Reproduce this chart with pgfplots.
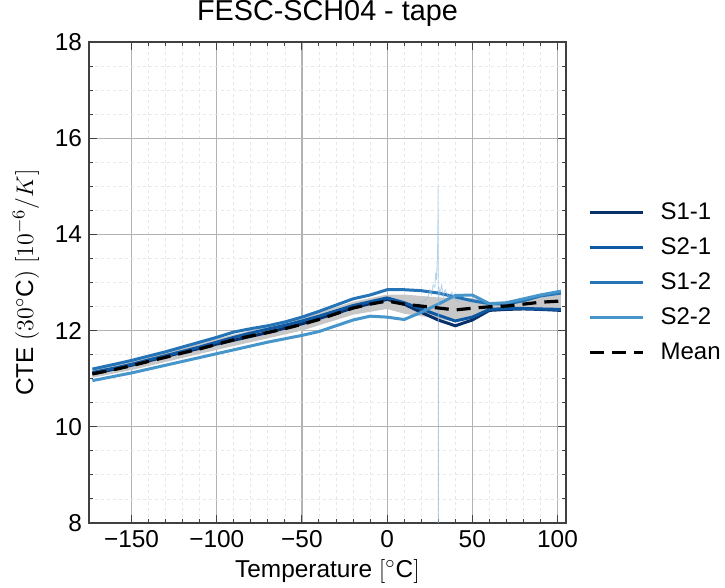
\documentclass[border=0pt]{standalone}
\usepackage{fontspec}
\setmainfont{Liberation Sans}
\usepackage{pgfplots}
\usepackage{pgfplotstable}
\pgfplotsset{compat=1.18}
\definecolor{cA}{HTML}{08306B}
\definecolor{cB}{HTML}{0E59A2}
\definecolor{cC}{HTML}{2474B7}
\definecolor{cD}{HTML}{4695CB}
\definecolor{spk}{HTML}{8ABBE0}
\definecolor{band}{HTML}{C8C8C8}

\pgfplotstableread{
x s11 s21 s12 s22 mean
-173 11.10 11.13 11.20 10.96 11.10
-160 11.20 11.22 11.30 11.05 11.19
-150 11.28 11.30 11.38 11.12 11.27
-140 11.37 11.39 11.47 11.20 11.36
-130 11.46 11.48 11.56 11.28 11.445
-120 11.55 11.57 11.66 11.36 11.535
-110 11.63 11.66 11.76 11.44 11.62
-100 11.72 11.76 11.86 11.52 11.715
-90 11.80 11.86 11.97 11.60 11.81
-80 11.88 11.95 12.04 11.68 11.89
-70 11.96 12.03 12.10 11.76 11.96
-60 12.05 12.11 12.18 11.83 12.04
-50 12.14 12.20 12.28 11.90 12.13
-40 12.25 12.30 12.40 11.98 12.23
-30 12.36 12.41 12.53 12.10 12.35
-20 12.47 12.52 12.66 12.22 12.47
-10 12.56 12.60 12.74 12.30 12.55
0 12.65 12.68 12.85 12.28 12.615
10 12.55 12.58 12.85 12.23 12.55
20 12.38 12.45 12.83 12.38 12.51
30 12.22 12.32 12.78 12.55 12.47
40 12.10 12.20 12.70 12.73 12.43
50 12.22 12.28 12.62 12.74 12.465
60 12.42 12.44 12.56 12.56 12.495
70 12.44 12.46 12.55 12.58 12.51
80 12.45 12.46 12.62 12.66 12.55
90 12.44 12.45 12.72 12.74 12.59
102 12.42 12.44 12.78 12.82 12.615
}\data

\begin{document}
\begin{tikzpicture}
\begin{axis}[
  at={(0,0)}, anchor=south west,
  scale only axis, width=238.5pt, height=240.5pt,
  xmin=-175, xmax=105, ymin=8, ymax=18,
  xtick={-150,-100,-50,0,50,100},
  xticklabels={−150,−100,−50,0,50,100},
  ytick={8,10,12,14,16,18},
  yticklabels={8,10,12,14,16,18},
  minor x tick num=4, minor y tick num=3,
  tick align=inside, tick pos=both,
  major tick length=4pt, minor tick length=2pt,
  grid=both,
  major grid style={color=black!30, line width=0.6pt},
  minor grid style={color=black!9, dash pattern=on 1.5pt off 1.5pt, line width=0.4pt},
  axis line style={black!75, line width=0.6pt},
  every tick/.style={black!75, line width=0.5pt},
  tick label style={font=\fontsize{12.2}{14}\selectfont},
  title={FESC-SCH04 - tape},
  title style={font=\fontsize{14.4}{16}\selectfont, at={(axis description cs:0.5,1.02)}, anchor=base, inner sep=0pt},
  xlabel={Temperature $[^{\circ}\mathrm{C}]$},
  ylabel={CTE $(30^{\circ}\mathrm{C})\ [10^{-6}/K]$},
  label style={font=\fontsize{12.2}{14}\selectfont},
  xlabel style={at={(axis description cs:0.5,-0.113)}, anchor=base, inner sep=0pt},
  ylabel style={at={(axis description cs:-0.117,0.5)}, anchor=base, inner sep=0pt},
  legend style={draw=none, fill=none, at={(1,0.5)}, anchor=west, xshift=11pt,
    font=\fontsize{12}{14}\selectfont, row sep=3.6pt, column sep=6pt, inner sep=0pt},
  legend cell align=left,
  legend image code/.code={\draw[#1] (0pt,0pt) -- (26.5pt,0pt);},
]
\addplot[fill=band, draw=none, forget plot] coordinates {
(-173,11.17) (-150,11.36) (-100,11.83) (-50,12.26) (-20,12.60) (0,12.75) (10,12.75) (20,12.72) (30,12.69) (40,12.68) (50,12.68) (60,12.59) (70,12.58) (80,12.65) (90,12.73) (102,12.78)
(102,12.45) (90,12.45) (80,12.45) (70,12.44) (60,12.40) (50,12.25) (40,12.18) (30,12.25) (20,12.30) (10,12.35) (0,12.45) (-20,12.33) (-50,12.00) (-100,11.60) (-150,11.18) (-173,11.02)
} -- cycle;
\addplot[cA, line width=1.5pt] table[x=x, y=s11] {\data};
\addlegendentry{S1-1}
\addplot[cB, line width=1.5pt] table[x=x, y=s21] {\data};
\addlegendentry{S2-1}
\addplot[cC, line width=1.5pt] table[x=x, y=s12] {\data};
\addlegendentry{S1-2}
\addplot[cD, line width=1.5pt] table[x=x, y=s22] {\data};
\addlegendentry{S2-2}
\addplot[spk, line width=0.4pt, opacity=0.65, forget plot] coordinates {
(18,12.55) (20,12.6) (22,12.62) (24,12.7) (25,12.85) (26,12.75) (27,12.95) (28,12.9) (28.5,13.2) (29,13.05) (29.3,13.4) (29.6,13.6) (29.8,14.2) (29.9,15.0) (30.0,13.0) (30.05,12.0) (30.1,7.5) (30.2,12.2) (30.4,12.9) (31,12.75) (32,12.95) (33,12.7) (34,12.85) (36,12.7) (38,12.8) (40,12.65) (42,12.6)
};
\addplot[black, line width=1.6pt, dash pattern=on 7pt off 4pt] table[x=x, y=mean] {\data};
\addlegendentry{Mean}
\end{axis}
\path (-44.5pt,-32.5pt) rectangle (318pt,261.5pt);
\end{tikzpicture}
\end{document}
